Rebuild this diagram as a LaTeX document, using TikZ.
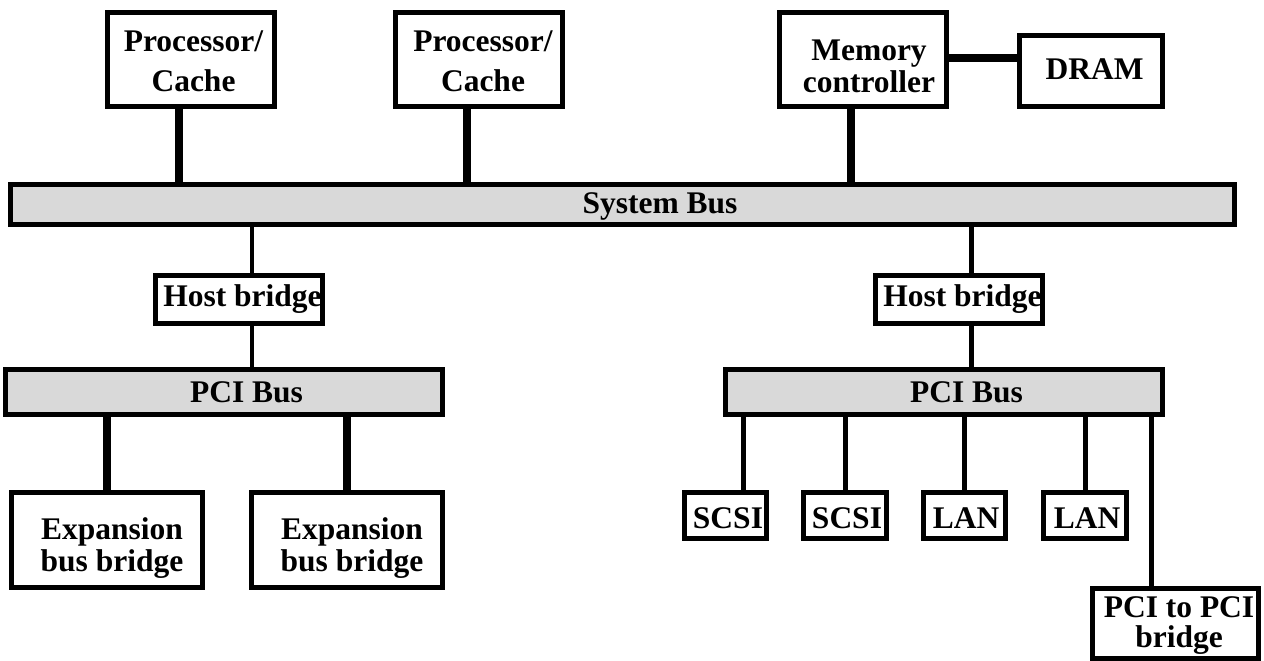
\documentclass[tikz,border=0pt]{standalone}
\usepackage{fontspec}
\setmainfont{Liberation Serif}
\definecolor{busgray}{HTML}{D9D9D9}
\begin{document}
\begin{tikzpicture}[x=1pt,y=-1pt,
  box/.style={draw=black, line width=5pt, fill=white, rectangle, inner sep=0pt},
  busbox/.style={draw=black, line width=5pt, fill=busgray, rectangle, inner sep=0pt},
  lbl/.style={font=\bfseries\fontsize{31.5}{32}\selectfont, inner sep=0pt, align=center},
  lblwide/.style={font=\bfseries\fontsize{31.5}{40}\selectfont, inner sep=0pt, align=center},
  wirethick/.style={line width=7.5pt},
  wiremid/.style={line width=5pt},
  wirethin/.style={line width=3.5pt}]
\useasboundingbox (0,0) rectangle (1264,661);

% top row
\node[box, minimum width=167pt, minimum height=94pt] (p1) at (191,59.5) {};
\node[box, minimum width=167pt, minimum height=94pt] (p2) at (479,59.5) {};
\node[box, minimum width=167pt, minimum height=94pt] (mc) at (863,59.5) {};
\node[box, minimum width=143pt, minimum height=71pt] (dram) at (1091,71) {};

% system bus
\node[busbox, minimum width=1224pt, minimum height=40pt] (sb) at (622.5,204.5) {};

% host bridges
\node[box, minimum width=167pt, minimum height=48pt] (hb1) at (239,299.5) {};
\node[box, minimum width=167pt, minimum height=48pt] (hb2) at (959,299.5) {};

% PCI buses
\node[busbox, minimum width=437pt, minimum height=45pt] (pci1) at (224,392) {};
\node[busbox, minimum width=437pt, minimum height=45pt] (pci2) at (944,392) {};

% expansion bridges
\node[box, minimum width=191pt, minimum height=95pt] (eb1) at (107,540) {};
\node[box, minimum width=191pt, minimum height=95pt] (eb2) at (347,540) {};

% devices
\node[box, minimum width=82pt, minimum height=46pt] (scsi1) at (725.5,515.5) {};
\node[box, minimum width=83pt, minimum height=46pt] (scsi2) at (845,515.5) {};
\node[box, minimum width=82pt, minimum height=46pt] (lan1) at (964.5,515.5) {};
\node[box, minimum width=83pt, minimum height=46pt] (lan2) at (1085,515.5) {};
\node[box, minimum width=166pt, minimum height=70pt] (pp) at (1175.5,623.5) {};

% labels
\node[lblwide] (tp1) at (193.5,61.3) {Processor/\\Cache};
\node[lblwide] (tp2) at (483,61.3) {Processor/\\Cache};
\node[lbl] (tmc) at (869,66.5) {Memory\\controller};
\node[lbl, anchor=base] (tdram) at (1094.5,80) {DRAM};
\node[lbl, anchor=base] (tsb) at (660,213) {System Bus};
\node[lbl, anchor=base] (thb1) at (242.5,306) {Host bridge};
\node[lbl, anchor=base] (thb2) at (962.5,306) {Host bridge};
\node[lbl, anchor=base] (tpci1) at (246.5,402) {PCI Bus};
\node[lbl, anchor=base] (tpci2) at (966.5,402) {PCI Bus};
\node[lbl] (teb1) at (112,547.7) {Expansion\\bus bridge};
\node[lbl] (teb2) at (352,547.7) {Expansion\\bus bridge};
\node[lbl, anchor=base] (tscsi1) at (728,528) {SCSI};
\node[lbl, anchor=base] (tscsi2) at (847,528) {SCSI};
\node[lbl, anchor=base] (tlan1) at (966,528) {LAN};
\node[lbl, anchor=base] (tlan2) at (1087,528) {LAN};
\node[lbl, font=\bfseries\fontsize{31.5}{30}\selectfont] (tpp) at (1179,626) {PCI to PCI\\bridge};

% connectors to system bus
\draw[wirethick] ([xshift=-12pt]p1.south) -- ([xshift=-12pt]p1.south |- sb.north);
\draw[wirethick] ([xshift=-12pt]p2.south) -- ([xshift=-12pt]p2.south |- sb.north);
\draw[wirethick] ([xshift=-12pt]mc.south) -- ([xshift=-12pt]mc.south |- sb.north);
\draw[wirethick] ([yshift=1.5pt]mc.east) -- ([yshift=1.5pt]mc.east -| dram.west);

% host bridges
\draw[wirethin] ([xshift=13pt]hb1.north) -- ([xshift=13pt]hb1.north |- sb.south);
\draw[wirethin] ([xshift=13pt]hb1.south) -- ([xshift=13pt]hb1.south |- pci1.north);
\draw[wiremid] ([xshift=12pt]hb2.north) -- ([xshift=12pt]hb2.north |- sb.south);
\draw[wiremid] ([xshift=12pt]hb2.south) -- ([xshift=12pt]hb2.south |- pci2.north);

% left PCI bus
\draw[wirethick] (eb1.north) -- (eb1.north |- pci1.south);
\draw[wirethick] (eb2.north) -- (eb2.north |- pci1.south);

% right PCI bus
\draw[wiremid] ([xshift=17.5pt]scsi1.north) -- ([xshift=17.5pt]scsi1.north |- pci2.south);
\draw[wiremid] (scsi2.north) -- (scsi2.north |- pci2.south);
\draw[wiremid] (lan1.north) -- (lan1.north |- pci2.south);
\draw[wiremid] (lan2.north) -- (lan2.north |- pci2.south);
\draw[wiremid] ([xshift=-24.5pt]pp.north) -- ([xshift=-24.5pt]pp.north |- pci2.south);
\end{tikzpicture}
\end{document}
